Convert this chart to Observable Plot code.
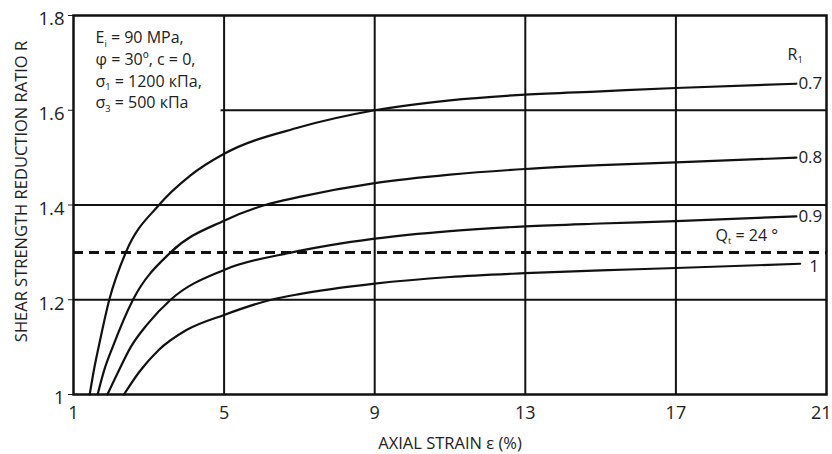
<!DOCTYPE html>
<html>
<head>
<meta charset="utf-8">
<script src="https://cdn.jsdelivr.net/npm/d3@7"></script>
<script src="https://cdn.jsdelivr.net/npm/@observablehq/plot@0.6"></script>
<style>
  html, body { margin: 0; padding: 0; background: #fff; }
  #chart { width: 832px; height: 454px; overflow: hidden; }
</style>
</head>
<body>
<div id="chart"></div>
<script>
// ---- data ----
const xTicks = [1, 5, 9, 13, 17, 21];
const yTicks = [1, 1.2, 1.4, 1.6, 1.8];
const xGrid = [5, 9, 13, 17];
const yGridFull = [1.2, 1.4];
const yGridPartial = [1.6];           // drawn only to the right of the note box
const yGridPartialStart = 4.92;
const phiLine = [1.3];                // dashed line Q_t = 24°

const rfLabels = ["0.7", "0.8", "0.9", "1"];

const strainRf07 = [1.43, 1.55, 1.68, 1.95, 2.39, 3.27, 4.1, 5, 7, 9, 11, 13, 15, 17, 20.2];
const ratioRf07  = [1.0, 1.055, 1.105, 1.20, 1.30, 1.40, 1.462, 1.508, 1.564, 1.600, 1.621, 1.633, 1.640, 1.647, 1.656];

const strainRf08 = [1.64, 1.81, 2.04, 2.58, 3.58, 5, 6.09, 7, 9, 11, 13, 15, 17, 20.2];
const ratioRf08  = [1.0, 1.05, 1.10, 1.20, 1.30, 1.367, 1.40, 1.417, 1.446, 1.464, 1.476, 1.484, 1.490, 1.500];

const strainRf09 = [1.90, 2.17, 2.52, 2.97, 3.58, 5, 6.8, 9, 11, 13, 15, 17, 20.2];
const ratioRf09  = [1.0, 1.045, 1.10, 1.149, 1.20, 1.263, 1.30, 1.329, 1.345, 1.355, 1.361, 1.366, 1.376];

const strainRf10 = [2.34, 2.75, 3.25, 4.0, 5, 6.2, 7, 9, 11, 13, 15, 17, 20.3];
const ratioRf10  = [1.0, 1.048, 1.093, 1.136, 1.168, 1.199, 1.212, 1.234, 1.248, 1.256, 1.262, 1.267, 1.276];

const noteLines = ["E_i = 90 MPa,", "φ = 30º, c = 0,", "σ_1 = 1200 кПа,", "σ_3 = 500 кПа"];
const rTitle = "R_1";
const phiLabel = "Q_t = 24 °";
const xTitle = "AXIAL STRAIN ε (%)";
const yTitle = "SHEAR STRENGTH REDUCTION RATIO R";

// ---- build rows ----
const seriesDefs = [
  {rf: rfLabels[0], xs: strainRf07, ys: ratioRf07},
  {rf: rfLabels[1], xs: strainRf08, ys: ratioRf08},
  {rf: rfLabels[2], xs: strainRf09, ys: ratioRf09},
  {rf: rfLabels[3], xs: strainRf10, ys: ratioRf10}
];
const rows = seriesDefs.flatMap(s => s.xs.map((x, i) => ({rf: s.rf, strain: x, ratio: s.ys[i]})));
const ends = seriesDefs.map(s => ({rf: s.rf, strain: s.xs[s.xs.length - 1], ratio: s.ys[s.ys.length - 1]}));

const INK = "#111";
const TXT = "#222";
const FONT = "'Open Sans', 'Noto Sans', sans-serif";

const chart = Plot.plot({
  width: 832,
  height: 454,
  marginLeft: 73,
  marginRight: 6,
  marginTop: 15,
  marginBottom: 60,
  style: {fontFamily: FONT, fontSize: "18px", color: TXT, background: "#fff", overflow: "visible"},
  x: {domain: [1, 21], axis: null},
  y: {domain: [1, 1.8], ticks: yTicks, tickSize: 5, tickFormat: () => "", label: null},
  marks: [
    Plot.ruleX(xGrid, {x: d => d, stroke: INK, strokeWidth: 2}),
    Plot.ruleY(yGridFull, {y: d => d, stroke: INK, strokeWidth: 2}),
    Plot.ruleY(yGridPartial, {y: d => d, x1: yGridPartialStart, x2: 21, stroke: INK, strokeWidth: 2}),
    Plot.ruleY(phiLine, {y: d => d, stroke: INK, strokeWidth: 3, strokeDasharray: "10,6"}),
    Plot.line(rows, {x: "strain", y: "ratio", z: "rf", stroke: INK, strokeWidth: 2.2, curve: "monotone-x"}),
    Plot.frame({stroke: INK, strokeWidth: 2.5}),
    // end labels
    Plot.text(ends.filter(d => d.rf !== "1"), {x: "strain", y: "ratio", text: "rf", textAnchor: "start", dx: 2, fontSize: 17, fill: TXT}),
    Plot.text(ends.filter(d => d.rf === "1"), {x: "strain", y: "ratio", text: "rf", textAnchor: "start", dx: 9, dy: 3, fontSize: 17, fill: TXT}),
    Plot.text([rTitle], {frameAnchor: "top-right", textAnchor: "start", lineAnchor: "top", dx: -39, dy: 33, fontSize: 16, fill: TXT}),
    Plot.text(phiLine, {y: d => d, text: () => phiLabel, frameAnchor: "right", textAnchor: "start", dx: -111, dy: -17, fontSize: 16, fill: TXT}),
    // note box (one multi-line text)
    Plot.text([noteLines.join("\n")], {frameAnchor: "top-left", textAnchor: "start", lineAnchor: "top", lineHeight: 1.356, dx: 22, dy: 12.5, fontSize: 16, fill: TXT}),
    // tick labels
    Plot.text(yTicks, {y: d => d, text: d => String(d), frameAnchor: "left", textAnchor: "end", lineAnchor: "middle", dx: -9, dy: 4, fontSize: 18.5, fill: TXT}),
    Plot.text(xTicks.slice(0, -1), {x: d => d, text: d => String(d), frameAnchor: "bottom", lineAnchor: "middle", dy: 19, fontSize: 18, fill: TXT}),
    Plot.text(xTicks.slice(-1), {x: d => d, text: d => String(d), frameAnchor: "bottom", lineAnchor: "middle", textAnchor: "end", dx: 5, dy: 19, fontSize: 18, fill: TXT}),
    // axis titles
    Plot.text([xTitle], {frameAnchor: "bottom", lineAnchor: "middle", dy: 49, fontSize: 16.5, fill: TXT}),
    Plot.text([yTitle], {frameAnchor: "left", textAnchor: "middle", lineAnchor: "middle", rotate: -90, dx: -52, dy: -13.5, fontSize: 16.5, fill: TXT})
  ]
});

// turn "X_s" into X with subscript s (works on plain texts and on line tspans)
const NS = "http://www.w3.org/2000/svg";
function subscriptify(node) {
  const s = node.textContent;
  if (!s.includes("_")) return;
  const parts = s.split(/_(.)/);
  node.textContent = "";
  parts.forEach((p, i) => {
    const ts = document.createElementNS(NS, "tspan");
    ts.textContent = p;
    if (i % 2 === 1) { ts.setAttribute("dy", "3.5"); ts.setAttribute("font-size", "0.58em"); }
    else if (i > 0) { ts.setAttribute("dy", "-3.5"); }
    node.appendChild(ts);
  });
}
chart.querySelectorAll("text").forEach(el => {
  const lines = el.querySelectorAll("tspan");
  if (lines.length) lines.forEach(subscriptify);
  else subscriptify(el);
});

document.getElementById("chart").appendChild(chart);
</script>
</body>
</html>
